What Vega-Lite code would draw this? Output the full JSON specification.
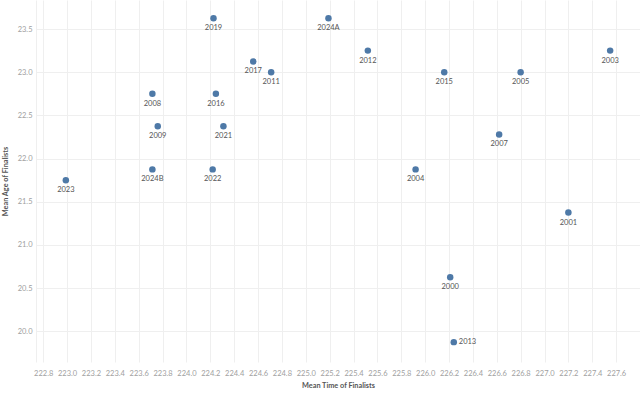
{
  "$schema": "https://vega.github.io/schema/vega-lite/v6.json",
  "width": 604,
  "height": 362,
  "autosize": {"type": "none"},
  "padding": {"left": 36, "top": 0, "right": 0, "bottom": 32},
  "background": "white",
  "config": {
    "view": {"stroke": null},
    "font": "Lato"
  },
  "data": {
    "values": [
      {"year": "2000", "time": 226.21, "age": 20.625},
      {"year": "2001", "time": 227.2, "age": 21.375},
      {"year": "2003", "time": 227.55, "age": 23.25},
      {"year": "2004", "time": 225.92, "age": 21.875},
      {"year": "2005", "time": 226.8, "age": 23.0},
      {"year": "2007", "time": 226.62, "age": 22.28},
      {"year": "2008", "time": 223.715, "age": 22.75},
      {"year": "2009", "time": 223.76, "age": 22.375},
      {"year": "2011", "time": 224.71, "age": 23.0},
      {"year": "2012", "time": 225.52, "age": 23.25},
      {"year": "2013", "time": 226.24, "age": 19.875},
      {"year": "2015", "time": 226.16, "age": 23.0},
      {"year": "2016", "time": 224.247, "age": 22.75},
      {"year": "2017", "time": 224.56, "age": 23.125},
      {"year": "2019", "time": 224.227, "age": 23.625},
      {"year": "2021", "time": 224.31, "age": 22.375},
      {"year": "2022", "time": 224.22, "age": 21.875},
      {"year": "2023", "time": 222.99, "age": 21.75},
      {"year": "2024A", "time": 225.19, "age": 23.625},
      {"year": "2024B", "time": 223.715, "age": 21.875}
    ]
  },
  "encoding": {
    "x": {
      "field": "time", "type": "quantitative",
      "scale": {"domain": [222.74, 227.8], "zero": false, "nice": false},
      "axis": {
        "title": "Mean Time of Finalists",
        "values": [222.8, 223.0, 223.2, 223.4, 223.6, 223.8, 224.0, 224.2, 224.4, 224.6, 224.8, 225.0, 225.2, 225.4, 225.6, 225.8, 226.0, 226.2, 226.4, 226.6, 226.8, 227.0, 227.2, 227.4, 227.6, 227.8],
        "format": ".1f",
        "labelExpr": "datum.value > 227.7 ? '' : datum.label",
        "domain": false, "ticks": false,
        "labelFont": "Lato", "labelFontSize": 7.5, "labelColor": "#a0a0a0", "labelPadding": 7,
        "titleFont": "Lato", "titleFontSize": 7.3, "titleFontWeight": "bold", "titleColor": "#555555", "titlePadding": 5,
        "gridColor": "#efefef", "gridWidth": 1
      }
    },
    "y": {
      "field": "age", "type": "quantitative",
      "scale": {"domain": [19.645, 23.836], "zero": false, "nice": false},
      "axis": {
        "title": "Mean Age of Finalists",
        "values": [20.0, 20.5, 21.0, 21.5, 22.0, 22.5, 23.0, 23.5],
        "format": ".1f",
        "domain": true, "domainColor": "#efefef", "ticks": false,
        "labelFont": "Lato", "labelFontSize": 7.5, "labelColor": "#a0a0a0", "labelPadding": 4,
        "titleFont": "Lato", "titleFontSize": 7.3, "titleFontWeight": "bold", "titleColor": "#555555", "titlePadding": 8,
        "gridColor": "#efefef", "gridWidth": 1
      }
    }
  },
  "layer": [
    {
      "mark": {"type": "circle", "size": 42, "color": "#4e79a7", "opacity": 1}
    },
    {
      "transform": [{"filter": "datum.year != '2013'"}],
      "mark": {"type": "text", "dy": 10, "baseline": "middle", "align": "center", "fontSize": 7.5, "font": "Lato", "color": "#555555"},
      "encoding": {"text": {"field": "year"}}
    },
    {
      "transform": [{"filter": "datum.year == '2013'"}],
      "mark": {"type": "text", "dx": 5, "baseline": "middle", "align": "left", "fontSize": 7.5, "font": "Lato", "color": "#555555"},
      "encoding": {"text": {"field": "year"}}
    }
  ]
}
